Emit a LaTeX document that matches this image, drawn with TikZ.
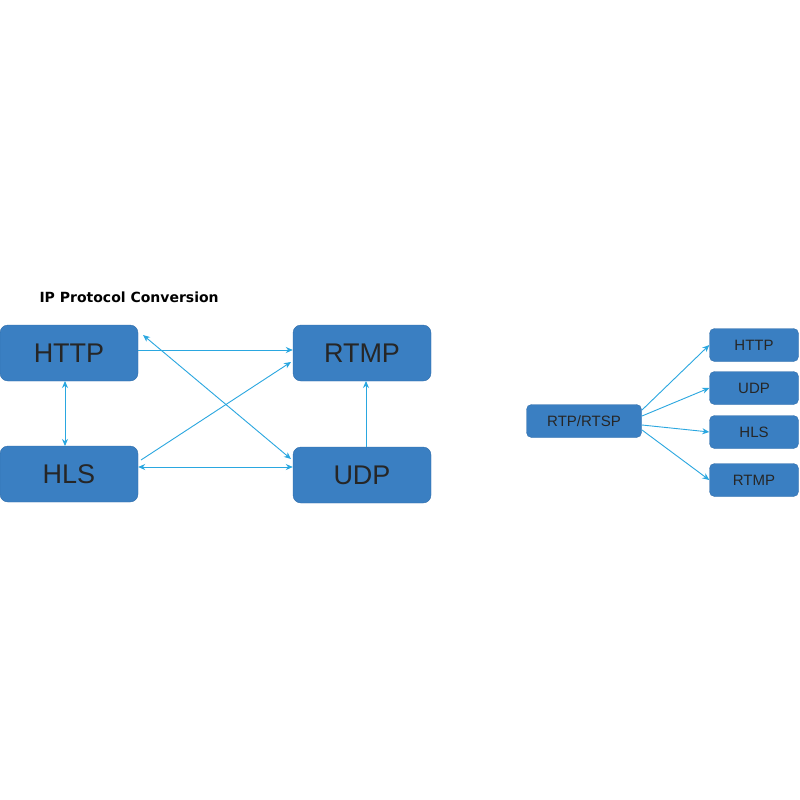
\documentclass[tikz,border=0pt]{standalone}
\usepackage{fontspec}
\setmainfont{Liberation Sans}
\newfontfamily\titlefont{DejaVu Sans}
\usetikzlibrary{arrows.meta}
\definecolor{boxblue}{HTML}{3A7FC2}
\definecolor{boxedge}{HTML}{2F6DAA}
\definecolor{arr}{HTML}{2AA7E0}
\begin{document}
\begin{tikzpicture}[x=1pt,y=-1pt,
  bigbox/.style={draw=boxedge,fill=boxblue,rounded corners=8pt,minimum width=138pt,minimum height=56pt,font=\fontsize{27}{30}\selectfont,text=black!85,inner sep=0pt},
  smallbox/.style={draw=boxedge,fill=boxblue,rounded corners=5pt,minimum width=89pt,minimum height=33pt,font=\fontsize{15}{18}\selectfont,text=black!85,inner sep=0pt},
  conn/.style={draw=arr,line width=0.9pt,-{Stealth[length=7pt,width=6pt]}},
  dconn/.style={draw=arr,line width=0.9pt,{Stealth[length=7pt,width=6pt]}-{Stealth[length=7pt,width=6pt]}}]
\useasboundingbox[fill=white] (0,0) rectangle (800,800);
\node[anchor=west,font=\titlefont\bfseries\fontsize{14}{16}\selectfont] (title) at (36,297) {IP Protocol Conversion};
\node[bigbox] (http) at (69,353) {HTTP};
\node[bigbox] (rtmp) at (362,353) {RTMP};
\node[bigbox] (hls) at (69,474) {HLS};
\node[bigbox] (udp) at (362,475) {UDP};
\draw[conn] (http.east |- 0,350) -- (rtmp.west |- 0,350);
\draw[dconn] (65,381) -- (65,446);
\draw[dconn] (hls.east |- 0,467) -- (udp.west |- 0,467);
\draw[conn] (366,447) -- (366,381);
\draw[conn] (141,460) -- (291,362);
\draw[dconn] (143,335) -- (291,459);
\node[smallbox,minimum width=115pt] (rtp) at (584,421) {RTP/RTSP};
\node[smallbox] (h2) at (754,345) {HTTP};
\node[smallbox] (u2) at (754,388) {UDP};
\node[smallbox] (l2) at (754,432) {HLS};
\node[smallbox] (r2) at (754,480) {RTMP};
\draw[conn] (642,410) -- (h2.west);
\draw[conn] (642,416) -- (u2.west);
\draw[conn] (642,425) -- (l2.west);
\draw[conn] (642,430) -- (r2.west);
\end{tikzpicture}
\end{document}
